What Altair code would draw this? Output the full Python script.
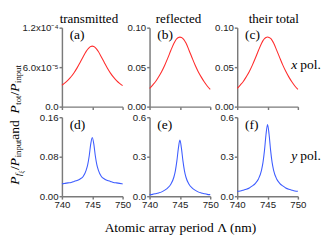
import altair as alt
import pandas as pd

period_nm = [740, 740.5, 741, 741.5, 742, 742.5, 743, 743.5, 744, 744.25, 744.5, 744.75,
             745, 745.25, 745.5, 745.75, 746, 746.5, 747, 747.5, 748, 748.5, 749, 749.5, 750]

trans_x = [3.26e-5, 3.60e-5, 4.03e-5, 4.54e-5, 5.16e-5, 5.89e-5, 6.72e-5, 7.59e-5, 8.40e-5, 8.72e-5,
           8.98e-5, 9.15e-5, 9.20e-5, 9.15e-5, 8.97e-5, 8.70e-5, 8.37e-5, 7.55e-5, 6.68e-5, 5.84e-5,
           5.10e-5, 4.48e-5, 3.97e-5, 3.55e-5, 3.20e-5]
refl_x = [0.0230, 0.0272, 0.0318, 0.0378, 0.0445, 0.0525, 0.0615, 0.0710, 0.0800, 0.0835, 0.0860,
          0.0875, 0.0880, 0.0876, 0.0862, 0.0838, 0.0805, 0.0715, 0.0620, 0.0528, 0.0446, 0.0377,
          0.0315, 0.0262, 0.0218]
total_x = [0.0231, 0.0273, 0.0318, 0.0379, 0.0446, 0.0526, 0.0616, 0.0711, 0.0801, 0.0836, 0.0861,
           0.0876, 0.0881, 0.0877, 0.0863, 0.0839, 0.0806, 0.0716, 0.0621, 0.0529, 0.0447, 0.0377,
           0.0315, 0.0262, 0.0218]
trans_y = [0.025, 0.026, 0.027, 0.028, 0.030, 0.032, 0.035, 0.040, 0.053, 0.064, 0.082, 0.106,
           0.119, 0.106, 0.082, 0.064, 0.053, 0.040, 0.035, 0.032, 0.030, 0.028, 0.027, 0.026, 0.025]
refl_y = [0.012, 0.014, 0.019, 0.025, 0.033, 0.046, 0.063, 0.091, 0.144, 0.193, 0.268, 0.365,
          0.426, 0.365, 0.268, 0.193, 0.144, 0.091, 0.063, 0.046, 0.033, 0.025, 0.019, 0.014, 0.012]
total_y = [0.037, 0.040, 0.046, 0.053, 0.063, 0.078, 0.098, 0.131, 0.197, 0.257, 0.350, 0.471,
           0.545, 0.471, 0.350, 0.257, 0.197, 0.131, 0.098, 0.078, 0.063, 0.053, 0.046, 0.040, 0.037]

x_ticks = [740, 745, 750]
col_titles = ["transmitted", "reflected", "their total"]
panel_labels = ["(a)", "(b)", "(c)", "(d)", "(e)", "(f)"]
x_title = "Atomic array period Λ (nm)"

W, H = 63, 82
SERIF = "Liberation Serif"
SANS = "Liberation Sans"
RED = "#ff2b2b"
BLUE = "#3d5cff"
AX = "#7a7a7a"


def txt(text, x, y, size=14, italic=False, angle=0, dx=0, dy=0, align="left", baseline="alphabetic"):
    kw = dict(font=SERIF, fontSize=size, align=align, baseline=baseline, color="black",
              fontStyle="italic" if italic else "normal", dx=dx, dy=dy)
    if angle:
        kw["angle"] = angle
    return alt.Chart(pd.DataFrame({"t": [text]})).mark_text(**kw).encode(
        text="t:N", x=alt.value(x), y=alt.value(y))


def panel(values, color, domain, yticks, label, bottom, title="", title_x=31.5, label_expr="",
          fmt="", xtitle="", extras=()):
    df = pd.DataFrame({"p": period_nm, "v": values})
    xaxis_kw = dict(values=x_ticks, labels=bottom, grid=False, domainColor=AX, domainWidth=1.5,
                    tickColor=AX, tickWidth=1.5, tickSize=3, labelFont=SANS, labelFontSize=10,
                    labelColor="#222", labelPadding=1, labelFlush=False)
    if xtitle:
        xaxis_kw.update(titleFont=SERIF, titleFontSize=14, titleFontWeight="normal",
                        titleColor="black", titlePadding=12)
    yaxis_kw = dict(values=yticks, grid=False, domainColor=AX, domainWidth=1.5, tickColor=AX,
                    tickWidth=1.5, tickSize=3, labelFont=SANS, labelFontSize=10, labelColor="#222",
                    labelPadding=1, labelFlush=False)
    if label_expr:
        yaxis_kw["labelExpr"] = label_expr
    if fmt:
        yaxis_kw["format"] = fmt
    line = alt.Chart(df).mark_line(color=color, strokeWidth=1.1, interpolate="monotone").encode(
        x=alt.X("p:Q", scale=alt.Scale(domain=[740, 750], nice=False, zero=False),
                axis=alt.Axis(**xaxis_kw), title=xtitle if xtitle else None),
        y=alt.Y("v:Q", scale=alt.Scale(domain=domain, nice=False),
                axis=alt.Axis(**yaxis_kw), title=None),
    )
    layers = [line, txt(label, 8, 1, baseline="top")]
    if title:
        layers.append(txt(title, title_x, -5, size=13.5, align="center"))
    return alt.layer(*layers, *extras).properties(width=W, height=H)


# y-axis title pieces (rotated), laid out along the reading direction
ytitle_pieces = [
    ("P", 0, 0, 14, True), ("f", 9.0, 3, 9, True), ("ξ", 11.6, 5, 7, True),
    ("/", 15.3, 0, 14, False), ("P", 19.2, 0, 14, True), ("input", 28.4, 3, 9, False),
    (" and ", 46.7, 0, 14, False), ("P", 73.9, 0, 14, True), ("tot", 83.0, 3, 9, False),
    ("/", 92.6, 0, 14, False), ("P", 96.5, 0, 14, True), ("input", 105.6, 3, 9, False),
]
ytitle_layers = [txt(t, -45, H + 81, size=s, italic=it, angle=270, dx=d, dy=dd)
                 for (t, d, dd, s, it) in ytitle_pieces]

xpol = [txt("x", 56, 43, italic=True), txt("pol.", 65.5, 43)]
ypol = [txt("y", 56, 44, italic=True), txt("pol.", 65.5, 44)]

a_expr = "datum.value > 0.0001 ? '1.2x10⁻⁴' : (datum.value > 0 ? '6.0x10⁻⁵' : '0.0')"

pa = panel(trans_x, RED, [0, 1.2e-4], [0, 6e-5, 1.2e-4], panel_labels[0], False,
           title=col_titles[0], title_x=28, label_expr=a_expr, extras=ytitle_layers)
pb = panel(refl_x, RED, [0, 0.1], [0, 0.05, 0.1], panel_labels[1], False,
           title=col_titles[1], title_x=30, fmt=".2f")
pc = panel(total_x, RED, [0, 0.1], [0, 0.05, 0.1], panel_labels[2], False,
           title=col_titles[2], title_x=38, fmt=".2f", extras=xpol)
pd_ = panel(trans_y, BLUE, [0, 0.16], [0, 0.08, 0.16], panel_labels[3], True, fmt=".2f")
pe = panel(refl_y, BLUE, [0, 0.6], [0, 0.3, 0.6], panel_labels[4], True, fmt=".1f",
           xtitle=x_title)
pf = panel(total_y, BLUE, [0, 0.6], [0, 0.3, 0.6], panel_labels[5], True, fmt=".1f",
           extras=ypol)

chart = alt.concat(
    pa, pb, pc, pd_, pe, pf, columns=3,
    spacing={"row": 11, "column": 28}, bounds="flush",
).configure_view(strokeWidth=0).properties(padding=0)

chart.save("out.html", embed_options={"renderer": "svg", "actions": False})
